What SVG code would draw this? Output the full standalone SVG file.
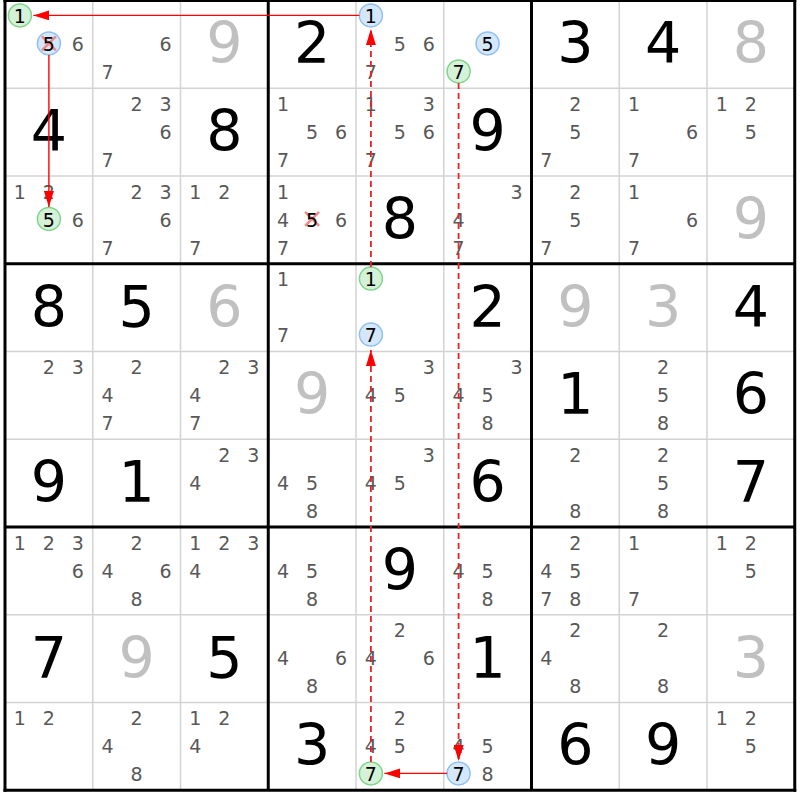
<svg xmlns="http://www.w3.org/2000/svg" width="800" height="800" viewBox="0 0 800 800">
<style>
text{font-family:"DejaVu Sans","Verdana",sans-serif;text-anchor:middle}
.g{font-size:57px;fill:#000}
.p{font-size:57px;fill:#c0c0c0}
.c{font-size:19px;fill:#585858}
.k{font-size:19px;fill:#000}
.bl{fill:#d5e7fb;stroke:#8fc0f2;stroke-width:1.5}
.gr{fill:#d5f2d8;stroke:#7fd48c;stroke-width:1.5}
.x{stroke:#f08a8a;stroke-width:2.5}
.thin{stroke:#d3d3d3;stroke-width:1.5}
.thick{stroke:#000;stroke-width:3}
.a{stroke:#ff0000;stroke-width:1.4;fill:none;marker-end:url(#ah)}
.d{stroke:#f02020;stroke-width:1.8;fill:none;stroke-dasharray:6 4;marker-end:url(#ah)}
</style>
<defs>
<marker id="ah" markerUnits="userSpaceOnUse" markerWidth="16" markerHeight="10" refX="16" refY="5" orient="auto">
<path d="M0,0 L16,5 L0,10 z" fill="#ff0000"/>
</marker>
</defs>
<rect x="0" y="0" width="800" height="800" fill="#fff"/>
<g id="grid">
<g class="thin">
<line x1="92.75" y1="0.5" x2="92.75" y2="790.25"/>
<line x1="180.5" y1="0.5" x2="180.5" y2="790.25"/>
<line x1="356" y1="0.5" x2="356" y2="790.25"/>
<line x1="443.75" y1="0.5" x2="443.75" y2="790.25"/>
<line x1="619.25" y1="0.5" x2="619.25" y2="790.25"/>
<line x1="707" y1="0.5" x2="707" y2="790.25"/>
<line x1="5" y1="88.25" x2="794.75" y2="88.25"/>
<line x1="5" y1="176" x2="794.75" y2="176"/>
<line x1="5" y1="351.5" x2="794.75" y2="351.5"/>
<line x1="5" y1="439.25" x2="794.75" y2="439.25"/>
<line x1="5" y1="614.75" x2="794.75" y2="614.75"/>
<line x1="5" y1="702.5" x2="794.75" y2="702.5"/>
</g>
<g class="thick">
<line x1="5" y1="-1" x2="5" y2="791.75"/>
<line x1="268.25" y1="0.5" x2="268.25" y2="790.25"/>
<line x1="531.5" y1="0.5" x2="531.5" y2="790.25"/>
<line x1="794.75" y1="-1" x2="794.75" y2="791.75"/>
<line x1="3.5" y1="0.5" x2="796.25" y2="0.5"/>
<line x1="5" y1="263.75" x2="794.75" y2="263.75"/>
<line x1="5" y1="527" x2="794.75" y2="527"/>
<line x1="3.5" y1="790.25" x2="796.25" y2="790.25"/>
</g>
</g>

<!-- Row 1 -->
<g id="r1c1" transform="translate(48.9,44.4)">
<circle class="gr" cx="-29" cy="-29" r="11.5"/><text class="k" x="-29" y="-21.2">1</text>
<circle class="bl" cx="0" cy="-1" r="11.5"/>
<line class="x" x1="-7" y1="-8" x2="7" y2="6"/><line class="x" x1="7" y1="-8" x2="-7" y2="6"/>
<text class="k" x="0" y="6.8">5</text>
<text class="c" x="29" y="6.8">6</text>
</g>
<g id="r1c2" transform="translate(136.6,44.4)"><text class="c" x="29" y="6.8">6</text><text class="c" x="-29" y="34.8">7</text></g>
<g id="r1c3" transform="translate(224.4,44.4)"><text class="p" x="0" y="19">9</text></g>
<g id="r1c4" transform="translate(312.1,44.4)"><text class="g" x="0" y="19">2</text></g>
<g id="r1c5" transform="translate(399.9,44.4)">
<circle class="bl" cx="-29" cy="-29" r="11.5"/><text class="k" x="-29" y="-21.2">1</text>
<text class="c" x="0" y="6.8">5</text><text class="c" x="29" y="6.8">6</text><text class="c" x="-29" y="34.8">7</text>
</g>
<g id="r1c6" transform="translate(487.6,44.4)">
<circle class="bl" cx="0" cy="-1" r="11.5"/><text class="k" x="0" y="6.8">5</text>
<circle class="gr" cx="-29" cy="27" r="11.5"/><text class="k" x="-29" y="34.8">7</text>
</g>
<g id="r1c7" transform="translate(575.4,44.4)"><text class="g" x="0" y="19">3</text></g>
<g id="r1c8" transform="translate(663.1,44.4)"><text class="g" x="0" y="19">4</text></g>
<g id="r1c9" transform="translate(750.9,44.4)"><text class="p" x="0" y="19">8</text></g>

<!-- Row 2 -->
<g id="r2c1" transform="translate(48.9,132.1)"><text class="g" x="0" y="19">4</text></g>
<g id="r2c2" transform="translate(136.6,132.1)"><text class="c" x="0" y="-21.2">2</text><text class="c" x="29" y="-21.2">3</text><text class="c" x="29" y="6.8">6</text><text class="c" x="-29" y="34.8">7</text></g>
<g id="r2c3" transform="translate(224.4,132.1)"><text class="g" x="0" y="19">8</text></g>
<g id="r2c4" transform="translate(312.1,132.1)"><text class="c" x="-29" y="-21.2">1</text><text class="c" x="0" y="6.8">5</text><text class="c" x="29" y="6.8">6</text><text class="c" x="-29" y="34.8">7</text></g>
<g id="r2c5" transform="translate(399.9,132.1)"><text class="c" x="-29" y="-21.2">1</text><text class="c" x="29" y="-21.2">3</text><text class="c" x="0" y="6.8">5</text><text class="c" x="29" y="6.8">6</text><text class="c" x="-29" y="34.8">7</text></g>
<g id="r2c6" transform="translate(487.6,132.1)"><text class="g" x="0" y="19">9</text></g>
<g id="r2c7" transform="translate(575.4,132.1)"><text class="c" x="0" y="-21.2">2</text><text class="c" x="0" y="6.8">5</text><text class="c" x="-29" y="34.8">7</text></g>
<g id="r2c8" transform="translate(663.1,132.1)"><text class="c" x="-29" y="-21.2">1</text><text class="c" x="29" y="6.8">6</text><text class="c" x="-29" y="34.8">7</text></g>
<g id="r2c9" transform="translate(750.9,132.1)"><text class="c" x="-29" y="-21.2">1</text><text class="c" x="0" y="-21.2">2</text><text class="c" x="0" y="6.8">5</text></g>

<!-- Row 3 -->
<g id="r3c1" transform="translate(48.9,219.9)">
<text class="c" x="-29" y="-21.2">1</text><text class="c" x="0" y="-21.2">2</text>
<circle class="gr" cx="0" cy="-1" r="11.5"/><text class="k" x="0" y="6.8">5</text>
<text class="c" x="29" y="6.8">6</text>
</g>
<g id="r3c2" transform="translate(136.6,219.9)"><text class="c" x="0" y="-21.2">2</text><text class="c" x="29" y="-21.2">3</text><text class="c" x="29" y="6.8">6</text><text class="c" x="-29" y="34.8">7</text></g>
<g id="r3c3" transform="translate(224.4,219.9)"><text class="c" x="-29" y="-21.2">1</text><text class="c" x="0" y="-21.2">2</text><text class="c" x="-29" y="34.8">7</text></g>
<g id="r3c4" transform="translate(312.1,219.9)">
<text class="c" x="-29" y="-21.2">1</text><text class="c" x="-29" y="6.8">4</text>
<line class="x" x1="-7" y1="-8" x2="7" y2="6"/><line class="x" x1="7" y1="-8" x2="-7" y2="6"/>
<text class="k" x="0" y="6.8">5</text>
<text class="c" x="29" y="6.8">6</text><text class="c" x="-29" y="34.8">7</text>
</g>
<g id="r3c5" transform="translate(399.9,219.9)"><text class="g" x="0" y="19">8</text></g>
<g id="r3c6" transform="translate(487.6,219.9)"><text class="c" x="29" y="-21.2">3</text><text class="c" x="-29" y="6.8">4</text><text class="c" x="-29" y="34.8">7</text></g>
<g id="r3c7" transform="translate(575.4,219.9)"><text class="c" x="0" y="-21.2">2</text><text class="c" x="0" y="6.8">5</text><text class="c" x="-29" y="34.8">7</text></g>
<g id="r3c8" transform="translate(663.1,219.9)"><text class="c" x="-29" y="-21.2">1</text><text class="c" x="29" y="6.8">6</text><text class="c" x="-29" y="34.8">7</text></g>
<g id="r3c9" transform="translate(750.9,219.9)"><text class="p" x="0" y="19">9</text></g>

<!-- Row 4 -->
<g id="r4c1" transform="translate(48.9,307.6)"><text class="g" x="0" y="19">8</text></g>
<g id="r4c2" transform="translate(136.6,307.6)"><text class="g" x="0" y="19">5</text></g>
<g id="r4c3" transform="translate(224.4,307.6)"><text class="p" x="0" y="19">6</text></g>
<g id="r4c4" transform="translate(312.1,307.6)"><text class="c" x="-29" y="-21.2">1</text><text class="c" x="-29" y="34.8">7</text></g>
<g id="r4c5" transform="translate(399.9,307.6)">
<circle class="gr" cx="-29" cy="-29" r="11.5"/><text class="k" x="-29" y="-21.2">1</text>
<circle class="bl" cx="-29" cy="27" r="11.5"/><text class="k" x="-29" y="34.8">7</text>
</g>
<g id="r4c6" transform="translate(487.6,307.6)"><text class="g" x="0" y="19">2</text></g>
<g id="r4c7" transform="translate(575.4,307.6)"><text class="p" x="0" y="19">9</text></g>
<g id="r4c8" transform="translate(663.1,307.6)"><text class="p" x="0" y="19">3</text></g>
<g id="r4c9" transform="translate(750.9,307.6)"><text class="g" x="0" y="19">4</text></g>

<!-- Row 5 -->
<g id="r5c1" transform="translate(48.9,395.4)"><text class="c" x="0" y="-21.2">2</text><text class="c" x="29" y="-21.2">3</text></g>
<g id="r5c2" transform="translate(136.6,395.4)"><text class="c" x="0" y="-21.2">2</text><text class="c" x="-29" y="6.8">4</text><text class="c" x="-29" y="34.8">7</text></g>
<g id="r5c3" transform="translate(224.4,395.4)"><text class="c" x="0" y="-21.2">2</text><text class="c" x="29" y="-21.2">3</text><text class="c" x="-29" y="6.8">4</text><text class="c" x="-29" y="34.8">7</text></g>
<g id="r5c4" transform="translate(312.1,395.4)"><text class="p" x="0" y="19">9</text></g>
<g id="r5c5" transform="translate(399.9,395.4)"><text class="c" x="29" y="-21.2">3</text><text class="c" x="-29" y="6.8">4</text><text class="c" x="0" y="6.8">5</text></g>
<g id="r5c6" transform="translate(487.6,395.4)"><text class="c" x="29" y="-21.2">3</text><text class="c" x="-29" y="6.8">4</text><text class="c" x="0" y="6.8">5</text><text class="c" x="0" y="34.8">8</text></g>
<g id="r5c7" transform="translate(575.4,395.4)"><text class="g" x="0" y="19">1</text></g>
<g id="r5c8" transform="translate(663.1,395.4)"><text class="c" x="0" y="-21.2">2</text><text class="c" x="0" y="6.8">5</text><text class="c" x="0" y="34.8">8</text></g>
<g id="r5c9" transform="translate(750.9,395.4)"><text class="g" x="0" y="19">6</text></g>

<!-- Row 6 -->
<g id="r6c1" transform="translate(48.9,483.1)"><text class="g" x="0" y="19">9</text></g>
<g id="r6c2" transform="translate(136.6,483.1)"><text class="g" x="0" y="19">1</text></g>
<g id="r6c3" transform="translate(224.4,483.1)"><text class="c" x="0" y="-21.2">2</text><text class="c" x="29" y="-21.2">3</text><text class="c" x="-29" y="6.8">4</text></g>
<g id="r6c4" transform="translate(312.1,483.1)"><text class="c" x="-29" y="6.8">4</text><text class="c" x="0" y="6.8">5</text><text class="c" x="0" y="34.8">8</text></g>
<g id="r6c5" transform="translate(399.9,483.1)"><text class="c" x="29" y="-21.2">3</text><text class="c" x="-29" y="6.8">4</text><text class="c" x="0" y="6.8">5</text></g>
<g id="r6c6" transform="translate(487.6,483.1)"><text class="g" x="0" y="19">6</text></g>
<g id="r6c7" transform="translate(575.4,483.1)"><text class="c" x="0" y="-21.2">2</text><text class="c" x="0" y="34.8">8</text></g>
<g id="r6c8" transform="translate(663.1,483.1)"><text class="c" x="0" y="-21.2">2</text><text class="c" x="0" y="6.8">5</text><text class="c" x="0" y="34.8">8</text></g>
<g id="r6c9" transform="translate(750.9,483.1)"><text class="g" x="0" y="19">7</text></g>

<!-- Row 7 -->
<g id="r7c1" transform="translate(48.9,570.9)"><text class="c" x="-29" y="-21.2">1</text><text class="c" x="0" y="-21.2">2</text><text class="c" x="29" y="-21.2">3</text><text class="c" x="29" y="6.8">6</text></g>
<g id="r7c2" transform="translate(136.6,570.9)"><text class="c" x="0" y="-21.2">2</text><text class="c" x="-29" y="6.8">4</text><text class="c" x="29" y="6.8">6</text><text class="c" x="0" y="34.8">8</text></g>
<g id="r7c3" transform="translate(224.4,570.9)"><text class="c" x="-29" y="-21.2">1</text><text class="c" x="0" y="-21.2">2</text><text class="c" x="29" y="-21.2">3</text><text class="c" x="-29" y="6.8">4</text></g>
<g id="r7c4" transform="translate(312.1,570.9)"><text class="c" x="-29" y="6.8">4</text><text class="c" x="0" y="6.8">5</text><text class="c" x="0" y="34.8">8</text></g>
<g id="r7c5" transform="translate(399.9,570.9)"><text class="g" x="0" y="19">9</text></g>
<g id="r7c6" transform="translate(487.6,570.9)"><text class="c" x="-29" y="6.8">4</text><text class="c" x="0" y="6.8">5</text><text class="c" x="0" y="34.8">8</text></g>
<g id="r7c7" transform="translate(575.4,570.9)"><text class="c" x="0" y="-21.2">2</text><text class="c" x="-29" y="6.8">4</text><text class="c" x="0" y="6.8">5</text><text class="c" x="-29" y="34.8">7</text><text class="c" x="0" y="34.8">8</text></g>
<g id="r7c8" transform="translate(663.1,570.9)"><text class="c" x="-29" y="-21.2">1</text><text class="c" x="-29" y="34.8">7</text></g>
<g id="r7c9" transform="translate(750.9,570.9)"><text class="c" x="-29" y="-21.2">1</text><text class="c" x="0" y="-21.2">2</text><text class="c" x="0" y="6.8">5</text></g>

<!-- Row 8 -->
<g id="r8c1" transform="translate(48.9,658.6)"><text class="g" x="0" y="19">7</text></g>
<g id="r8c2" transform="translate(136.6,658.6)"><text class="p" x="0" y="19">9</text></g>
<g id="r8c3" transform="translate(224.4,658.6)"><text class="g" x="0" y="19">5</text></g>
<g id="r8c4" transform="translate(312.1,658.6)"><text class="c" x="-29" y="6.8">4</text><text class="c" x="29" y="6.8">6</text><text class="c" x="0" y="34.8">8</text></g>
<g id="r8c5" transform="translate(399.9,658.6)"><text class="c" x="0" y="-21.2">2</text><text class="c" x="-29" y="6.8">4</text><text class="c" x="29" y="6.8">6</text></g>
<g id="r8c6" transform="translate(487.6,658.6)"><text class="g" x="0" y="19">1</text></g>
<g id="r8c7" transform="translate(575.4,658.6)"><text class="c" x="0" y="-21.2">2</text><text class="c" x="-29" y="6.8">4</text><text class="c" x="0" y="34.8">8</text></g>
<g id="r8c8" transform="translate(663.1,658.6)"><text class="c" x="0" y="-21.2">2</text><text class="c" x="0" y="34.8">8</text></g>
<g id="r8c9" transform="translate(750.9,658.6)"><text class="p" x="0" y="19">3</text></g>

<!-- Row 9 -->
<g id="r9c1" transform="translate(48.9,746.4)"><text class="c" x="-29" y="-21.2">1</text><text class="c" x="0" y="-21.2">2</text></g>
<g id="r9c2" transform="translate(136.6,746.4)"><text class="c" x="0" y="-21.2">2</text><text class="c" x="-29" y="6.8">4</text><text class="c" x="0" y="34.8">8</text></g>
<g id="r9c3" transform="translate(224.4,746.4)"><text class="c" x="-29" y="-21.2">1</text><text class="c" x="0" y="-21.2">2</text><text class="c" x="-29" y="6.8">4</text></g>
<g id="r9c4" transform="translate(312.1,746.4)"><text class="g" x="0" y="19">3</text></g>
<g id="r9c5" transform="translate(399.9,746.4)">
<text class="c" x="0" y="-21.2">2</text><text class="c" x="-29" y="6.8">4</text><text class="c" x="0" y="6.8">5</text>
<circle class="gr" cx="-29" cy="27" r="11.5"/><text class="k" x="-29" y="34.8">7</text>
</g>
<g id="r9c6" transform="translate(487.6,746.4)">
<text class="c" x="-29" y="6.8">4</text><text class="c" x="0" y="6.8">5</text>
<circle class="bl" cx="-29" cy="27" r="11.5"/><text class="k" x="-29" y="34.8">7</text>
<text class="c" x="0" y="34.8">8</text>
</g>
<g id="r9c7" transform="translate(575.4,746.4)"><text class="g" x="0" y="19">6</text></g>
<g id="r9c8" transform="translate(663.1,746.4)"><text class="g" x="0" y="19">9</text></g>
<g id="r9c9" transform="translate(750.9,746.4)"><text class="c" x="-29" y="-21.2">1</text><text class="c" x="0" y="-21.2">2</text><text class="c" x="0" y="6.8">5</text></g>

<g id="connectors">
<line class="a" x1="359.4" y1="15.4" x2="33.4" y2="15.4"/>
<line class="a" x1="48.9" y1="55" x2="48.9" y2="207"/>
<line class="d" x1="370.9" y1="267" x2="370.9" y2="29"/>
<line class="d" x1="370.9" y1="762" x2="370.9" y2="350"/>
<line class="d" x1="458.6" y1="83" x2="458.6" y2="761"/>
<line class="a" x1="447.1" y1="773.4" x2="384.4" y2="773.4"/>
</g>
</svg>
